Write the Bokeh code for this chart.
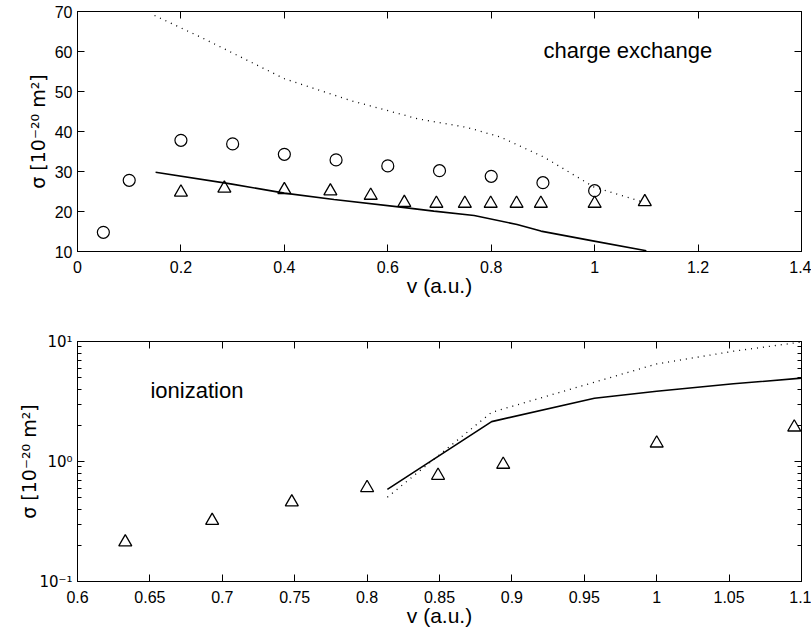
from bokeh.plotting import figure
from bokeh.layouts import column
from bokeh.models import Range1d, FixedTicker, LinearAxis, LogAxis, Label
from bokeh.embed import file_html
from bokeh.resources import INLINE

# ---------------- data: charge exchange (top) ----------------
cx_circle_v = [0.05, 0.1, 0.2, 0.3, 0.4, 0.5, 0.6, 0.7, 0.8, 0.9, 1.0]
cx_circle_s = [14.8, 27.8, 37.8, 36.9, 34.3, 32.9, 31.4, 30.2, 28.8, 27.2, 25.2]

cx_tri_v = [0.2, 0.284, 0.4, 0.489, 0.567, 0.632, 0.694, 0.749, 0.799, 0.849, 0.896, 1.0, 1.097]
cx_tri_s = [24.8, 25.8, 25.4, 25.1, 24.0, 22.2, 22.0, 22.0, 22.0, 22.0, 22.0, 22.0, 22.4]

cx_solid_v = [0.151, 0.296, 0.4, 0.496, 0.625, 0.689, 0.767, 0.85, 0.896, 0.999, 1.1]
cx_solid_s = [29.8, 26.9, 24.6, 23.0, 21.1, 20.1, 19.0, 16.75, 15.1, 12.6, 10.2]

cx_dot_v = [0.149, 0.238, 0.4, 0.528, 0.657, 0.754, 0.818, 0.902, 0.999, 1.095]
cx_dot_s = [69.0, 63.6, 53.2, 47.75, 43.2, 41.0, 38.6, 33.6, 26.1, 22.3]

# ---------------- data: ionization (bottom) ----------------
ion_tri_v = [0.633, 0.693, 0.748, 0.800, 0.849, 0.894, 1.0, 1.095]
ion_tri_s = [0.213, 0.322, 0.458, 0.604, 0.764, 0.944, 1.42, 1.93]

ion_solid_v = [0.814, 0.886, 0.957, 1.0, 1.053, 1.1]
ion_solid_s = [0.585, 2.15, 3.37, 3.85, 4.44, 4.95]

ion_dot_v = [0.814, 0.886, 0.957, 1.0, 1.053, 1.1]
ion_dot_s = [0.504, 2.57, 4.58, 6.5, 8.3, 9.9]

# ---------------- ticks ----------------
top_x_ticks = [0, 0.2, 0.4, 0.6, 0.8, 1.0, 1.2, 1.4]
top_x_labels = ["0", "0.2", "0.4", "0.6", "0.8", "1", "1.2", "1.4"]
top_y_ticks = [10, 20, 30, 40, 50, 60, 70]
top_y_labels = ["10", "20", "30", "40", "50", "60", "70"]

bot_x_ticks = [0.6, 0.65, 0.7, 0.75, 0.8, 0.85, 0.9, 0.95, 1.0, 1.05, 1.1]
bot_x_labels = ["0.6", "0.65", "0.7", "0.75", "0.8", "0.85", "0.9", "0.95", "1", "1.05", "1.1"]
bot_y_ticks = [0.1, 1, 10]
bot_y_labels = ["10\u207b\u00b9", "10\u2070", "10\u00b9"]
bot_y_minor = [m * d for d in (0.1, 1) for m in range(2, 10)]

Y_LABEL = "\u03c3 [10\u207b\u00b2\u2070 m\u00b2]"
X_LABEL = "v (a.u.)"
FONT = "Liberation Sans"


def style_axis(ax, show=True):
    ax.axis_line_color = "black"
    ax.major_tick_line_color = "black"
    ax.minor_tick_line_color = "black"
    ax.major_tick_in = 7
    ax.major_tick_out = 0
    ax.minor_tick_in = 4
    ax.minor_tick_out = 0
    ax.major_label_text_font = FONT
    ax.axis_label_text_font = FONT
    ax.axis_label_text_font_style = "normal"
    ax.axis_label_text_color = "black"
    ax.axis_label_text_font_size = "21px"
    if show:
        ax.major_label_text_font_size = "16px"
        ax.major_label_text_color = "black"
    else:
        ax.major_label_text_font_size = "1px"
        ax.major_label_text_color = None
        ax.major_label_standoff = 0
        ax.axis_label = None


def base_fig(height, border_top, border_bottom, x_range, y_range, y_type="linear"):
    p = figure(width=811, height=height, x_range=x_range, y_range=y_range,
               y_axis_type=y_type, output_backend="svg", toolbar_location=None,
               min_border_left=77, min_border_right=10,
               min_border_top=border_top, min_border_bottom=border_bottom)
    p.grid.visible = False
    p.outline_line_color = "black"
    p.outline_line_alpha = 1.0
    p.background_fill_color = "white"
    p.border_fill_color = "white"
    return p


# ================= top panel =================
p1 = base_fig(305, 11, 54, Range1d(0, 1.4), Range1d(10, 70))
p1.xaxis.ticker = FixedTicker(ticks=top_x_ticks)
p1.xaxis.major_label_overrides = dict(zip(top_x_ticks, top_x_labels))
p1.yaxis.ticker = FixedTicker(ticks=top_y_ticks)
p1.yaxis.major_label_overrides = dict(zip(top_y_ticks, top_y_labels))
p1.xaxis.axis_label = X_LABEL
p1.yaxis.axis_label = Y_LABEL
for ax in p1.xaxis + p1.yaxis:
    style_axis(ax)
    ax.minor_tick_line_color = None
p1.yaxis.axis_label_text_font = "DejaVu Sans"
p1.yaxis.axis_label_text_font_size = "19px"
p1.xaxis.major_label_standoff = 9
p1.xaxis.axis_label_standoff = -2
p1.yaxis.major_label_standoff = 5
p1.yaxis.axis_label_standoff = 3

ax_top = LinearAxis(ticker=FixedTicker(ticks=top_x_ticks))
style_axis(ax_top, show=False)
ax_top.minor_tick_line_color = None
p1.add_layout(ax_top, "above")
ax_right = LinearAxis(ticker=FixedTicker(ticks=top_y_ticks))
style_axis(ax_right, show=False)
ax_right.minor_tick_line_color = None
p1.add_layout(ax_right, "right")

p1.line(cx_dot_v, cx_dot_s, line_color="black", line_width=1.3, line_dash="1 5")
p1.line(cx_solid_v, cx_solid_s, line_color="black", line_width=1.6)
p1.scatter(cx_circle_v, cx_circle_s, marker="circle", size=12, fill_color=None,
           line_color="black", line_width=1.2)
p1.scatter(cx_tri_v, cx_tri_s, marker="triangle", size=13, fill_color=None,
           line_color="black", line_width=1.3)
p1.add_layout(Label(x=0.901, y=60.25, text="charge exchange", text_font=FONT,
                    text_font_size="22px", text_color="black", text_baseline="middle"))

# ================= bottom panel =================
p2 = base_fig(329, 36, 53, Range1d(0.6, 1.1), Range1d(0.1, 10), y_type="log")
p2.xaxis.ticker = FixedTicker(ticks=bot_x_ticks)
p2.xaxis.major_label_overrides = dict(zip(bot_x_ticks, bot_x_labels))
p2.yaxis.ticker = FixedTicker(ticks=bot_y_ticks, minor_ticks=bot_y_minor)
p2.yaxis.major_label_overrides = dict(zip(bot_y_ticks, bot_y_labels))
p2.xaxis.axis_label = X_LABEL
p2.yaxis.axis_label = Y_LABEL
for ax in p2.xaxis + p2.yaxis:
    style_axis(ax)
p2.yaxis.axis_label_text_font = "DejaVu Sans"
p2.yaxis.axis_label_text_font_size = "19px"
p2.yaxis.major_label_text_font = "DejaVu Sans"
p2.yaxis.major_label_text_font_size = "15px"
p2.xaxis.minor_tick_line_color = None
p2.xaxis.major_label_standoff = 9
p2.xaxis.axis_label_standoff = -2
p2.yaxis.major_label_standoff = 5
p2.yaxis.axis_label_standoff = -4

ax_top2 = LinearAxis(ticker=FixedTicker(ticks=bot_x_ticks))
style_axis(ax_top2, show=False)
ax_top2.minor_tick_line_color = None
p2.add_layout(ax_top2, "above")
ax_right2 = LogAxis(ticker=FixedTicker(ticks=bot_y_ticks, minor_ticks=bot_y_minor))
style_axis(ax_right2, show=False)
p2.add_layout(ax_right2, "right")

p2.line(ion_dot_v, ion_dot_s, line_color="black", line_width=1.3, line_dash="1 5")
p2.line(ion_solid_v, ion_solid_s, line_color="black", line_width=1.6)
p2.scatter(ion_tri_v, ion_tri_s, marker="triangle", size=13, fill_color=None,
           line_color="black", line_width=1.3)
p2.add_layout(Label(x=0.6504, y=3.9, text="ionization", text_font=FONT,
                    text_font_size="22px", text_color="black", text_baseline="middle"))

layout = column(p1, p2, spacing=0)
open("out.html", "w").write(file_html(layout, INLINE))
